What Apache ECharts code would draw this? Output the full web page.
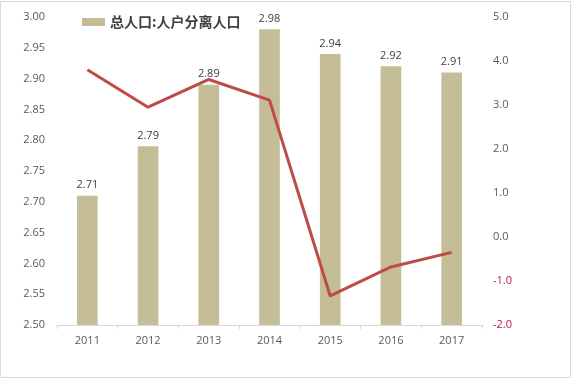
<!DOCTYPE html>
<html><head><meta charset="utf-8">
<script src="https://cdn.jsdelivr.net/npm/echarts@6/dist/echarts.min.js"></script>
<style>html,body{margin:0;padding:0;background:#fff}#c{width:572px;height:379px}</style>
</head><body><div id="c"></div>
<script>
const categories = ['2011','2012','2013','2014','2015','2016','2017'];
const barValues = [2.71, 2.79, 2.89, 2.98, 2.94, 2.92, 2.91];
const lineValues = [3.8, 2.95, 3.58, 3.11, -1.34, -0.68, -0.35];
const barName = '总人口:人户分离人口';
const lineName = '增速';

const chart = echarts.init(document.getElementById('c'));
const font = '"Open Sans", "Noto Sans", sans-serif';
chart.setOption({
  animation: false,
  backgroundColor: '#fff',
  graphic: [{type:'rect', shape:{x:0.5,y:1.5,width:570,height:376}, style:{fill:'none', stroke:'#d9d9d9', lineWidth:1}, silent:true}],
  legend: {
    data: [{name: barName, icon: 'rect'}], left: 77, top: 10, itemWidth: 23, itemHeight: 8, itemGap: 6,
    textStyle: {fontFamily: '"Noto Sans CJK SC", sans-serif', fontSize: 14, fontWeight: 'bold', color: '#404040'}
  },
  grid: {left: 57, right: 90, top: 17, bottom: 54},
  xAxis: {
    type: 'category', data: categories,
    axisLine: {onZero: false, lineStyle: {color: '#d9d9d9'}},
    axisTick: {show: true, length: 4, lineStyle: {color: '#d9d9d9'}},
    axisLabel: {color: '#595959', fontSize: 11, fontFamily: font, margin: 10}
  },
  yAxis: [{
    type: 'value', min: 2.5, max: 3.0, interval: 0.05,
    axisLine: {show: false}, axisTick: {show: false}, splitLine: {show: false},
    axisLabel: {color: '#595959', fontSize: 11, fontFamily: font, margin: 12, formatter: v => v.toFixed(2)}
  }, {
    type: 'value', min: -2, max: 5, interval: 1,
    axisLine: {show: false}, axisTick: {show: false}, splitLine: {show: false},
    axisLabel: {fontSize: 11, fontFamily: font, margin: 11,
      formatter: v => v < 0 ? '{n|' + v.toFixed(1) + '}' : '{p|' + v.toFixed(1) + '}',
      rich: {n: {color: '#c0143c', fontSize: 11, fontFamily: font}, p: {color: '#595959', fontSize: 11, fontFamily: font}}}
  }],
  series: [{
    name: barName, type: 'bar', data: barValues, barWidth: '34%',
    itemStyle: {color: '#c4bd97'},
    label: {show: true, position: 'top', distance: 5, color: '#404040', fontSize: 11, fontFamily: font, formatter: p => p.value.toFixed(2)}
  }, {
    name: lineName, type: 'line', yAxisIndex: 1, data: lineValues,
    symbol: 'none', lineStyle: {color: '#be4b48', width: 3}
  }]
});
</script></body></html>
